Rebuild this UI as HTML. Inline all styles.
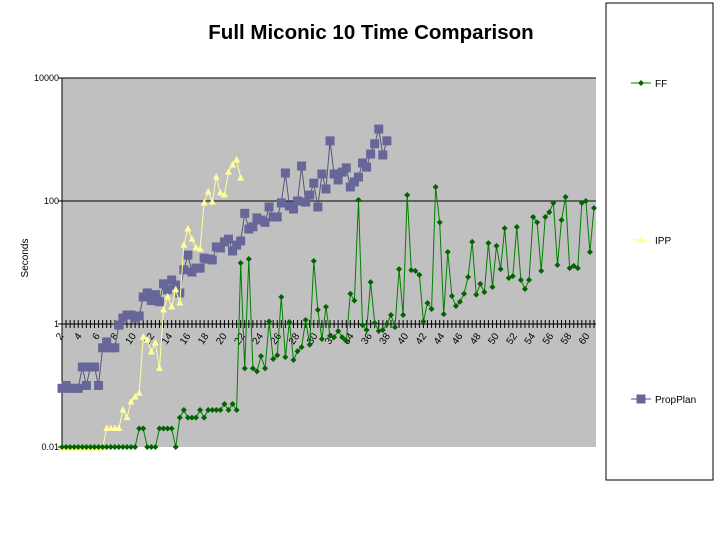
<!DOCTYPE html>
<html><head><meta charset="utf-8"><style>
body{margin:0;background:#fff;}
svg{display:block;font-family:"Liberation Sans",sans-serif;}
</style></head><body>
<svg id="chart" width="720" height="540" viewBox="0 0 720 540">
<text x="371" y="39" text-anchor="middle" font-size="20.5" font-weight="bold">Full Miconic 10 Time Comparison</text>
<rect x="62" y="78" width="534" height="369" fill="#c0c0c0"/>
<g id="grid"></g>
<g id="xaxis"></g>
<g id="yaxis"></g>
<g id="series"></g>
<text transform="translate(28,258) rotate(-90)" text-anchor="middle" font-size="10">Seconds</text>
<rect x="606" y="3" width="107" height="477" fill="#fff" stroke="#000" stroke-width="1"/>
<g id="legend"></g>
</svg>
<script>
const ffValues=[0.01,0.01,0.01,0.01,0.01,0.01,0.01,0.01,0.01,0.01,0.01,0.01,0.01,0.01,0.01,0.01,0.01,0.01,0.01,0.02,0.02,0.01,0.01,0.01,0.02,0.02,0.02,0.02,0.01,0.03,0.04,0.03,0.03,0.03,0.04,0.03,0.04,0.04,0.04,0.04,0.05,0.04,0.05,0.04,
9.8,0.19,11.4,0.19,0.17,0.30,0.19,1.1,0.27,0.31,2.75,0.29,1.08,0.26,0.36,0.42,1.16,0.46,10.6,1.7,0.57,1.9,0.64,0.61,0.77,0.61,0.53,3.1,
2.4,104,0.96,0.80,4.8,1.04,0.77,0.80,1.0,1.4,0.89,7.8,1.4,125,7.5,7.3,6.3,1.1,2.2,1.75,169,45,1.45,14.8,2.85,1.96,2.3,3.1,5.8,
21.6,3.0,4.5,3.3,20.7,4.0,18.6,7.8,36,5.6,6.0,37.8,5.2,3.7,5.2,55,45,7.3,55,66,93,9.1,49,116,8.1,8.8,8.1,93,100,14.8,77];
const ippValues=[0.0095,0.0095,0.0095,0.0095,0.0095,0.0095,0.0095,0.0095,0.0095,0.0095,0.0095,0.02,0.02,0.02,0.02,0.04,0.03,0.054,0.065,0.075,0.61,0.55,0.35,0.49,0.19,1.7,2.75,1.9,3.6,2.2,19.2,35,24,17.2,16.5,93,140,96,245,135,125,295,385,465,235];
const propValues=[0.09,0.1,0.09,0.09,0.09,0.2,0.1,0.2,0.2,0.1,0.41,0.51,0.41,0.41,0.96,1.25,1.4,1.4,1.25,1.35,
2.75,3.2,2.4,3.0,2.3,4.5,3.6,5.2,4.3,3.2,7.6,13.2,7.0,8.1,8.1,11.8,11.4,11.0,17.9,17.2,21.6,24,15.4,19.2,22.4,63,35,38,53,49,45,80,55,55,93,285,83,74,100,370,96,125,195,80,275,157,950,275,220,295,345,169,204,245,415,355,580,850,1480,560,950];
const xTickLabels=["2","4","6","8","10","12","14","16","18","20","22","24","26","28","30","32","34","36","38","40","42","44","46","48","50","52","54","56","58","60"];
const yTickValues=[0.01,1,100,10000];
const yTickLabels=["0.01","1","100","10000"];
const seriesNames=["FF","IPP","PropPlan"];

const NS="http://www.w3.org/2000/svg";
const X0=62,X1=596,Y0=447,Y1=78,N=132;
const step=(594-62)/(N-1);
function xi(i){return X0+i*step;}
function xl(v){return X0+(v-2)*9.07;}
function y(v){return 324-Math.log10(v)*61.5;}
function mk(tag,attrs,parent){const e=document.createElementNS(NS,tag);for(const k in attrs)e.setAttribute(k,attrs[k]);parent.appendChild(e);return e;}
const grid=document.getElementById('grid'),xa=document.getElementById('xaxis'),ya=document.getElementById('yaxis'),sg=document.getElementById('series'),lg=document.getElementById('legend');

yTickValues.forEach((v,k)=>{
  if(v!==0.01){const l=mk('line',{x1:X0,x2:X1,y1:y(v),y2:y(v),stroke:'#000','stroke-width':1},grid);
  
  }
  const t=mk('line',{x1:X0-4,x2:X0,y1:y(v),y2:y(v),stroke:'#000'},ya);
  
  
  const tx=mk('text',{x:X0-3,y:y(v)+3,'text-anchor':'end','font-size':9},ya);
  tx.textContent=yTickLabels[k];
  
  
});
const yl=mk('line',{x1:X0,x2:X0,y1:Y1,y2:Y0,stroke:'#000'},ya);


for(let i=0;i<N;i++){
  const t=mk('line',{x1:xi(i),x2:xi(i),y1:320,y2:328,stroke:'#000','stroke-width':1},xa);
  
  
}
xTickLabels.forEach(s=>{
  const v=+s;
  const t=mk('text',{transform:`translate(${xl(v)+2},336) rotate(-55)`,'text-anchor':'end','font-size':10},xa);
  t.textContent=s;
  
  
});

function draw(vals,color,lineColor,shape,name){
  const g=mk('g',{},sg);
  
  
  const pts=vals.map((v,i)=>xi(i).toFixed(1)+','+y(v).toFixed(1)).join(' ');
  const pl=mk('polyline',{points:pts,fill:'none',stroke:lineColor,'stroke-width':1},g);
  
  
  vals.forEach((v,i)=>{
    const m=marker(g,xi(i),y(v),shape,color);
    
    
  });
}
function marker(g,cx,cy,shape,color){
  if(shape==='diamond')return mk('polygon',{points:`${cx},${cy-3} ${cx+3},${cy} ${cx},${cy+3} ${cx-3},${cy}`,fill:color},g);
  if(shape==='tri')return mk('polygon',{points:`${cx},${cy-4} ${cx+3.5},${cy+2.5} ${cx-3.5},${cy+2.5}`,fill:color},g);
  return mk('rect',{x:cx-4.5,y:cy-4.5,width:9,height:9,fill:color},g);
}
draw(propValues,'#666699','#55557a','sq','propplan');
draw(ippValues,'#ffff99','#ffff99','tri','ipp');
draw(ffValues,'#006400','#008000','diamond','ff');

const leg=[[83,'#006400','#008000','diamond'],[240,'#ffff99','#ffff99','tri'],[399,'#666699','#55557a','sq']];
leg.forEach((d,k)=>{
  const g=mk('g',{},lg);
  
  
  mk('line',{x1:631,x2:651,y1:d[0],y2:d[0],stroke:d[2]},g);
  marker(g,641,d[0],d[3],d[1]);
  const t=mk('text',{x:655,y:d[0]+4,'font-size':10},g);
  t.textContent=seriesNames[k];
});
</script>
</body></html>
